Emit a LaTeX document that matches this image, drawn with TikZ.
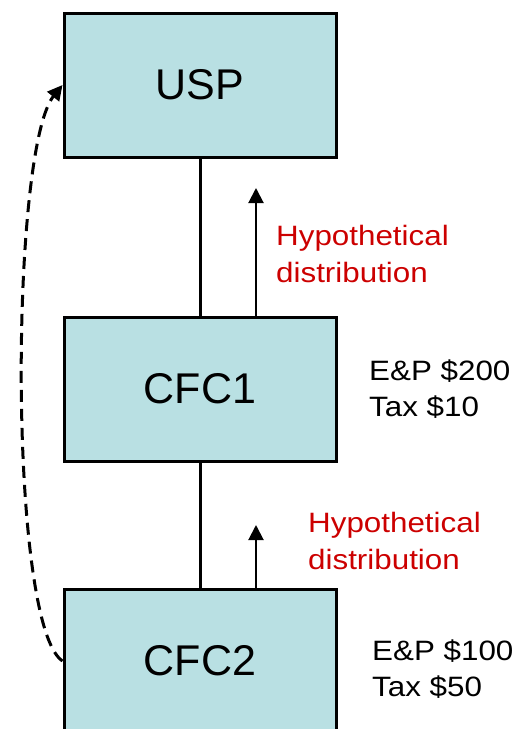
\documentclass[tikz,border=0pt]{standalone}
\usepackage{fontspec}
\setmainfont{Liberation Sans}
\newfontfamily\notefont[FakeStretch=1.12]{Liberation Sans}
\usetikzlibrary{arrows.meta}
\definecolor{boxfill}{RGB}{185,224,227}
\definecolor{notered}{RGB}{204,0,0}
\begin{document}
\begin{tikzpicture}[x=1pt,y=-1pt,
  entity/.style={draw=black, line width=3pt, fill=boxfill, minimum width=272pt,
    minimum height=144pt, inner sep=0pt, font=\fontsize{43}{50}\selectfont},
  link/.style={line width=3pt},
  flow/.style={line width=2pt, -{Triangle[width=15pt,length=15pt]}},
  note/.style={anchor=west, align=left, inner sep=0pt, font=\notefont\fontsize{28}{36.5}\selectfont},
  hypo/.style={note, text=notered}]
\useasboundingbox (0,0) rectangle (516,729);
\clip (0,0) rectangle (516,729);
% ownership chain
\node[entity] (usp)  at (200,85)  {USP};
\node[entity] (cfc1) at (200,389) {CFC1};
\node[entity] (cfc2) at (200,661) {CFC2};
\draw[link] (usp.south) -- (cfc1.north);
\draw[link] (cfc1.south) -- (cfc2.north);
% hypothetical distributions
\coordinate (up1) at (256,188);
\coordinate (up2) at (256,525);
\draw[flow] (cfc1.north -| up1) -- (up1);
\draw[flow] (cfc2.north -| up2) -- (up2);
\node[hypo] (h1) at (276,254) {Hypothetical\\distribution};
\node[hypo] (h2) at (308,541) {Hypothetical\\distribution};
% earnings and taxes
\node[note] (n1) at (369,389) {E\&P \$200\\Tax \$10};
\node[note] (n2) at (372,669) {E\&P \$100\\Tax \$50};
% deemed path straight to the parent
\draw[line width=3pt, dash pattern=on 12pt off 7pt, -{Triangle[width=15pt,length=15pt]}]
  (cfc2.west) .. controls (8,625) and (10,150) .. (usp.west);
\end{tikzpicture}
\end{document}
